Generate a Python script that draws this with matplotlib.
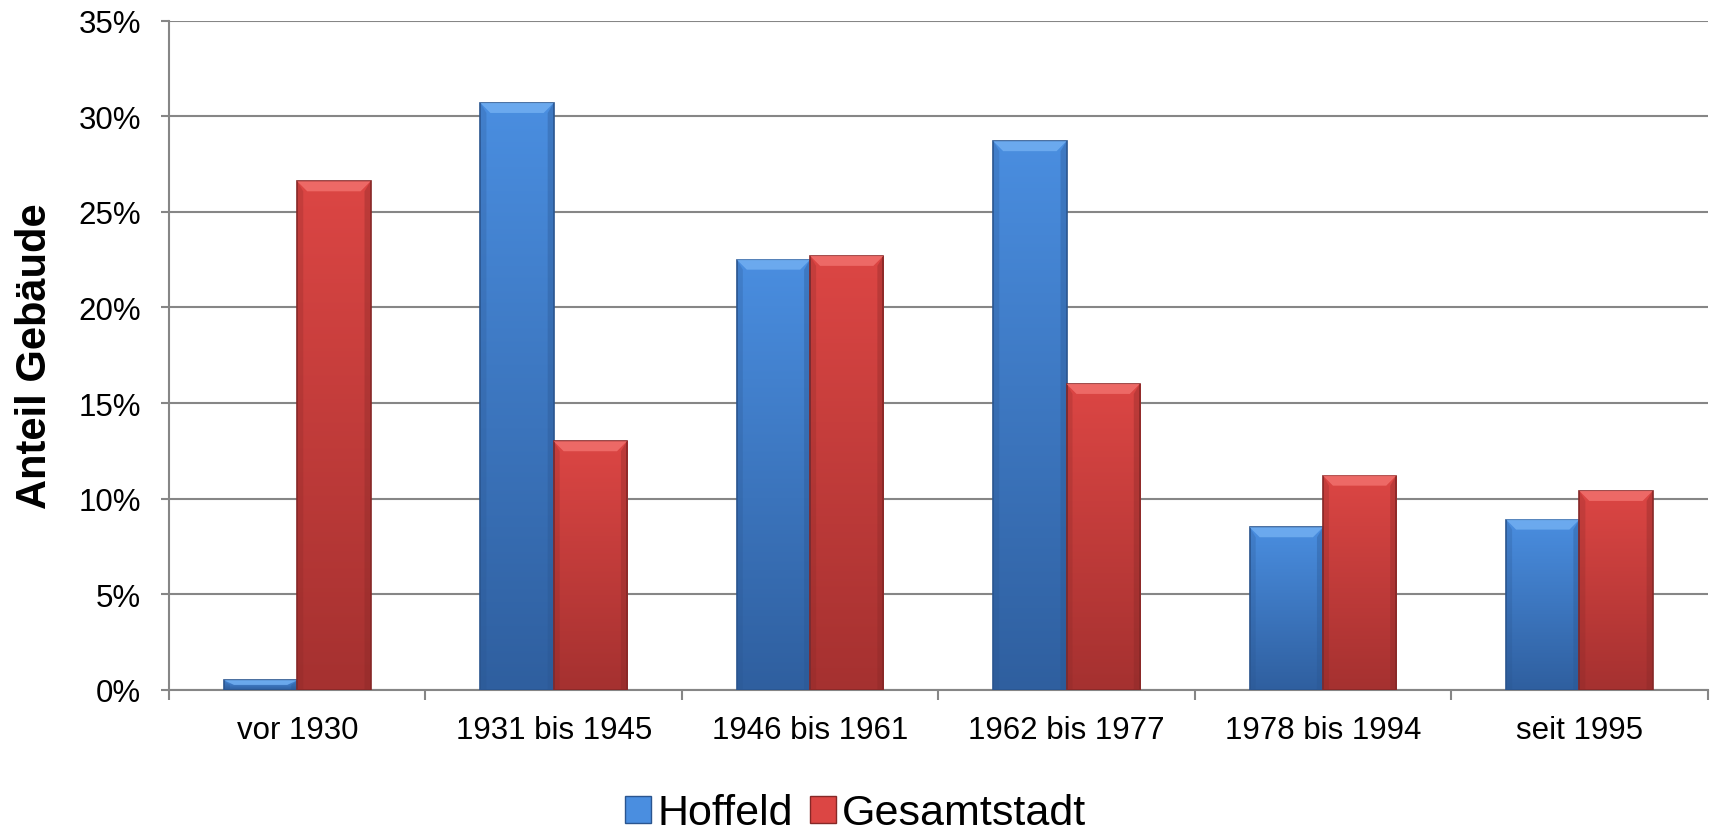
import numpy as np
import matplotlib
matplotlib.use("Agg")
import matplotlib.pyplot as plt
from matplotlib.patches import Polygon, Patch
from matplotlib.colors import LinearSegmentedColormap
from matplotlib.ticker import PercentFormatter, FixedLocator

categories = ["vor 1930", "1931 bis 1945", "1946 bis 1961",
              "1962 bis 1977", "1978 bis 1994", "seit 1995"]
hoffeld = [0.005, 0.307, 0.225, 0.287, 0.085, 0.089]
gesamtstadt = [0.266, 0.130, 0.227, 0.160, 0.112, 0.104]
series_names = ["Hoffeld", "Gesamtstadt"]

# top, bottom, bevel highlight, edge
styles = {
    "Hoffeld": ("#4a8ee0", "#2f5f9f", "#6fadf0", "#2a558f"),
    "Gesamtstadt": ("#dc4644", "#a53130", "#f06e6b", "#862827"),
}

plt.rcParams["font.family"] = ["Liberation Sans", "DejaVu Sans"]

fig = plt.figure(figsize=(17.11, 8.37), dpi=100)
ax = fig.add_axes([0.0988, 0.1748, 0.8992, 0.7992])

x = np.arange(len(categories))
width = 1 / 3.5
ax.set_xlim(-0.5, len(categories) - 0.5)
ax.set_ylim(0, 0.35)

# pixel -> data units for bevel sizes
px_x = (len(categories)) / (0.8992 * 1711)
px_y = 0.35 / (0.7992 * 837)
bev_x, bev_y = 10 * px_x, 10 * px_y


def gradient_bar(x0, h, top, bottom, hi, edge):
    x1 = x0 + width
    cmap = LinearSegmentedColormap.from_list("g", [bottom, top])
    grad = np.linspace(0, 1, 256).reshape(-1, 1)
    im = ax.imshow(grad, cmap=cmap, origin="lower", aspect="auto",
                   extent=(x0, x1, 0, h), zorder=3)
    rect = plt.Rectangle((x0, 0), width, h, facecolor="none",
                         edgecolor=edge, linewidth=1.2, zorder=4)
    ax.add_patch(rect)
    im.set_clip_path(rect)
    by = min(bev_y, h / 2)
    bx = min(bev_x, width / 2)
    ax.add_patch(Polygon([(x0, h), (x1, h), (x1 - bx, h - by), (x0 + bx, h - by)],
                         closed=True, facecolor=hi, edgecolor="none",
                         alpha=0.9, zorder=4))
    # darker side bevels
    ax.add_patch(Polygon([(x0, 0), (x0 + bx * 0.6, 0), (x0 + bx * 0.6, h - by), (x0, h)],
                         closed=True, facecolor=edge, edgecolor="none",
                         alpha=0.25, zorder=4))
    ax.add_patch(Polygon([(x1, 0), (x1 - bx * 0.6, 0), (x1 - bx * 0.6, h - by), (x1, h)],
                         closed=True, facecolor=edge, edgecolor="none",
                         alpha=0.35, zorder=4))


for i in range(len(categories)):
    gradient_bar(x[i] - width, hoffeld[i], *styles["Hoffeld"])
    gradient_bar(x[i], gesamtstadt[i], *styles["Gesamtstadt"])

gridc = "#868686"
ax.set_yticks(np.arange(0, 0.351, 0.05))
ax.yaxis.set_major_formatter(PercentFormatter(1.0, decimals=0))
ax.yaxis.grid(True, color=gridc, linewidth=1.5)
ax.set_axisbelow(True)

ax.set_xticks(x)
ax.set_xticklabels(categories)
ax.xaxis.set_minor_locator(FixedLocator(np.arange(-0.5, len(categories), 1.0)))
ax.tick_params(axis="x", which="major", length=0, pad=18, labelsize=22.5)
ax.tick_params(axis="x", which="minor", length=7, width=1.5, color=gridc)
ax.tick_params(axis="y", length=6, width=1.5, color=gridc, pad=14, labelsize=22.5)

for s in ["top", "right"]:
    ax.spines[s].set_visible(False)
for s in ["left", "bottom"]:
    ax.spines[s].set_color(gridc)
    ax.spines[s].set_linewidth(1.5)

fig.text(35 / 1711, 1 - 356 / 837, "Anteil Gebäude", fontsize=30,
         fontweight="bold", rotation=90, ha="center", va="center")

handles = [Patch(facecolor=styles[n][0], edgecolor=styles[n][3], label=n)
           for n in series_names]
fig.legend(handles=handles, loc="center", bbox_to_anchor=(0.5, 0.027),
           ncol=2, frameon=False, fontsize=31, handlelength=0.6,
           handleheight=0.6, handletextpad=0.15, columnspacing=0.4,
           borderaxespad=0)

fig.savefig("out.png", dpi=100)
